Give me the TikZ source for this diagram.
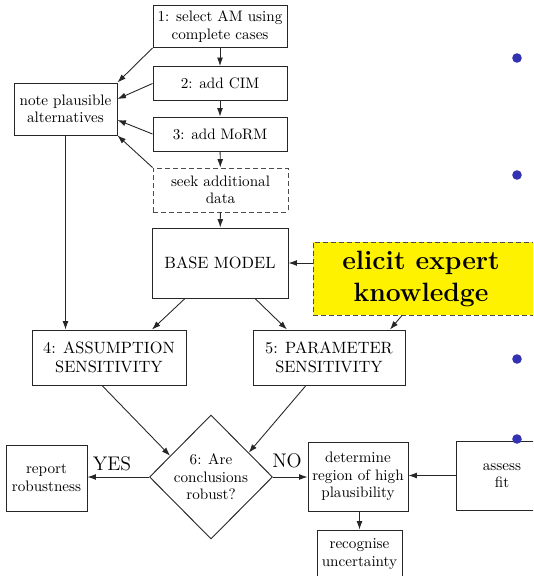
\documentclass[tikz,border=0pt]{standalone}
\usetikzlibrary{arrows.meta,shapes.geometric,calc}
\definecolor{bulletblue}{rgb}{0.2,0.2,0.7}
% one drawing unit
\newcommand{\pxu}{0.66pt}
\begin{document}
\begin{tikzpicture}[x=\pxu,y=-\pxu,
  box/.style={draw=black!85,line width=0.62pt,rectangle,inner sep=0pt,align=center,
    font=\fontsize{10}{11.5}\selectfont},
  bigbox/.style={box,font=\fontsize{10.8}{12.3}\selectfont},
  dashbox/.style={box,draw=black!70,dash pattern=on 3.3pt off 2pt},
  conn/.style={draw=black!85,line width=0.58pt,-{Latex[length=5.6pt,width=3.9pt]}},
  answer/.style={font=\fontsize{13}{15}\selectfont,inner sep=0pt},
  dot/.style={circle,fill=bulletblue,inner sep=0pt,minimum size=9.6*\pxu}]
\useasboundingbox (0,0) rectangle (533,576);
\clip (0,0) rectangle (533,576);

% main modelling chain
\node[box,minimum width=134*\pxu,minimum height=42*\pxu] (n1) at (220,26.5) {1: select AM using\\complete cases};
\node[box,minimum width=134*\pxu,minimum height=34*\pxu] (n2) at (220,83.5) {2: add CIM};
\node[box,minimum width=134*\pxu,minimum height=34*\pxu] (n3) at (220,134) {3: add MoRM};
\node[dashbox,minimum width=135*\pxu,minimum height=44*\pxu] (seek) at (220.5,190) {seek additional\\data};
\node[box,minimum width=103*\pxu,minimum height=52*\pxu] (note) at (65.5,109) {note plausible\\alternatives};
\node[bigbox,minimum width=136*\pxu,minimum height=70*\pxu] (base) at (220,263) {BASE MODEL};

% expert knowledge box, running off the right edge
\node[dashbox,fill=yellow,minimum width=232*\pxu,minimum height=73*\pxu] (elicit) at (429,278.5) {};
\node[inner sep=0pt,align=center,font=\fontsize{17.5}{21}\selectfont\bfseries] (elicittext) at (421,279) {elicit expert\\knowledge};

% sensitivity analyses
\node[bigbox,minimum width=154*\pxu,minimum height=55*\pxu] (a4) at (109,357.5) {4: ASSUMPTION\\SENSITIVITY};
\node[bigbox,minimum width=152*\pxu,minimum height=55*\pxu] (a5) at (329,357.5) {5: PARAMETER\\SENSITIVITY};

% decision and outcomes
\node[draw=black!85,line width=0.62pt,diamond,inner sep=0pt,minimum width=123*\pxu,minimum height=124*\pxu,
  align=center,font=\fontsize{10}{11.5}\selectfont] (dia) at (211,477) {6: Are\\conclusions\\robust?};
\node[box,minimum width=81*\pxu,minimum height=66*\pxu] (rep) at (46.5,478) {report\\robustness};
\node[box,minimum width=100*\pxu,minimum height=69*\pxu] (det) at (358,476.5) {determine\\region of high\\plausibility};
\node[box,minimum width=85*\pxu,minimum height=48*\pxu] (rec) at (359.5,554) {recognise\\uncertainty};
\node[box,minimum width=92*\pxu,minimum height=69*\pxu] (fit) at (502,475.5) {assess\\fit};

\node[answer] (yes) at (112,464) {YES};
\node[answer] (no) at (287,461) {NO};

% connectors
\draw[conn] (n1) -- (n2);
\draw[conn] (n2) -- (n3);
\draw[conn] (n3) -- (seek);
\draw[conn] (seek) -- (base);
\draw[conn] (n1.south west) -- (note.north east);
\draw[conn] (n2.west) -- ([yshift=10*\pxu]note.east);
\draw[conn] (n3.west) -- ([yshift=-11*\pxu]note.east);
\draw[conn] (seek.north west) -- (note.south east);
\draw[conn] (note.south) -- (note.south |- a4.north);
\draw[conn] ([xshift=-35*\pxu]base.south) -- ([xshift=43*\pxu]a4.north);
\draw[conn] ([xshift=35*\pxu]base.south) -- ([xshift=-42*\pxu]a5.north);
\draw[conn] (elicit.west |- base.east) -- (base.east);
\draw[conn] ([xshift=-27*\pxu]elicit.south) -- ([xshift=61*\pxu]a5.north);
\draw[conn] ([xshift=-7*\pxu]a4.south) -- ($(dia.west)!0.34!(dia.north)$);
\draw[conn] ([xshift=-23*\pxu]a5.south) -- ($(dia.east)!0.39!(dia.north)$);
\draw[conn] (dia.west) -- (dia.west -| rep.east);
\draw[conn] (dia.east) -- (dia.east -| det.west);
\draw[conn] (fit.west) -- (fit.west -| det.east);
\draw[conn] (det.south -| rec.north) -- (rec.north);

% slide bullets
\node[dot] (b1) at (517,58) {};
\node[dot] (b2) at (517,175) {};
\node[dot] (b3) at (517,359) {};
\node[dot] (b4) at (517,439) {};
\end{tikzpicture}
\end{document}
